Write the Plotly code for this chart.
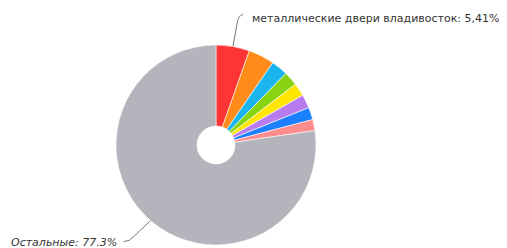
import math
import plotly.graph_objects as go

labels = ["металлические двери владивосток", "Запрос 2", "Запрос 3", "Запрос 4",
          "Запрос 5", "Запрос 6", "Запрос 7", "Запрос 8", "Остальные"]
values = [5.41, 4.2, 2.7, 2.3, 2.1, 2.2, 2.0, 1.79, 77.3]
value_text = ["5,41%", "", "", "", "", "", "", "", "77.3%"]
colors = ["#ff3434", "#ff8c1a", "#1ab4ee", "#88d411", "#ffe600",
          "#b87cf0", "#1a80ff", "#ff8c8c", "#b4b4bc"]

OFF = 8            # default page body margin
W, H = 507 - OFF, 248 - OFF
CX, CY, R = 216, 145, 100  # pie centre / radius in screen pixels

def px(x):
    return (x - OFF) / W

def py(y):
    return 1 - (y - OFF) / H

fig = go.Figure(go.Pie(
    labels=labels, values=values, sort=False, direction="clockwise", rotation=0,
    hole=0.19, textinfo="none", hoverinfo="label+percent",
    marker=dict(colors=colors, line=dict(color="white", width=0.6)),
    domain=dict(x=[px(CX - R), px(CX + R)], y=[py(CY + R), py(CY - R)]),
    showlegend=False,
))

total = sum(values)

def mid_point(i):
    start = sum(values[:i]) / total
    frac = start + values[i] / total / 2
    a = 2 * math.pi * frac
    return CX + R * math.sin(a), CY - R * math.cos(a)

def path(points):
    (x0, y0), (x1, y1), (cx, cy), (x2, y2) = points
    return (f"M {px(x0)} {py(y0)} L {px(x1)} {py(y1)} "
            f"Q {px(cx)} {py(cy)} {px(x2)} {py(y2)}")

shapes = []
annotations = []

# first slice label (top right)
x0, y0 = mid_point(0)
shapes.append(dict(type="path", xref="paper", yref="paper",
                   path=path([(x0, y0), (x0 + 4, y0 - 22), (x0 + 5, y0 - 31), (x0 + 10, y0 - 32)]),
                   line=dict(color="#777777", width=1)))
annotations.append(dict(x=px(x0 + 17), y=py(19), xref="paper", yref="paper",
                        xanchor="left", yanchor="middle", showarrow=False,
                        text=f"{labels[0]}: {value_text[0]}",
                        font=dict(family="DejaVu Sans", size=11, color="#333333")))

# last slice label (bottom left)
x8, y8 = mid_point(8)
shapes.append(dict(type="path", xref="paper", yref="paper",
                   path=path([(x8, y8), (x8 - 17, y8 + 16), (x8 - 21, y8 + 21), (x8 - 27, y8 + 21)]),
                   line=dict(color="#777777", width=1)))
annotations.append(dict(x=px(x8 - 32), y=py(242), xref="paper", yref="paper",
                        xanchor="right", yanchor="middle", showarrow=False,
                        text=f"<i>{labels[8]}: {value_text[8]}</i>",
                        font=dict(family="DejaVu Sans", size=11, color="#333333")))

fig.update_layout(width=W, height=H, margin=dict(l=0, r=0, t=0, b=0),
                  paper_bgcolor="white", plot_bgcolor="white",
                  shapes=shapes, annotations=annotations)

fig.write_html("out.html")
